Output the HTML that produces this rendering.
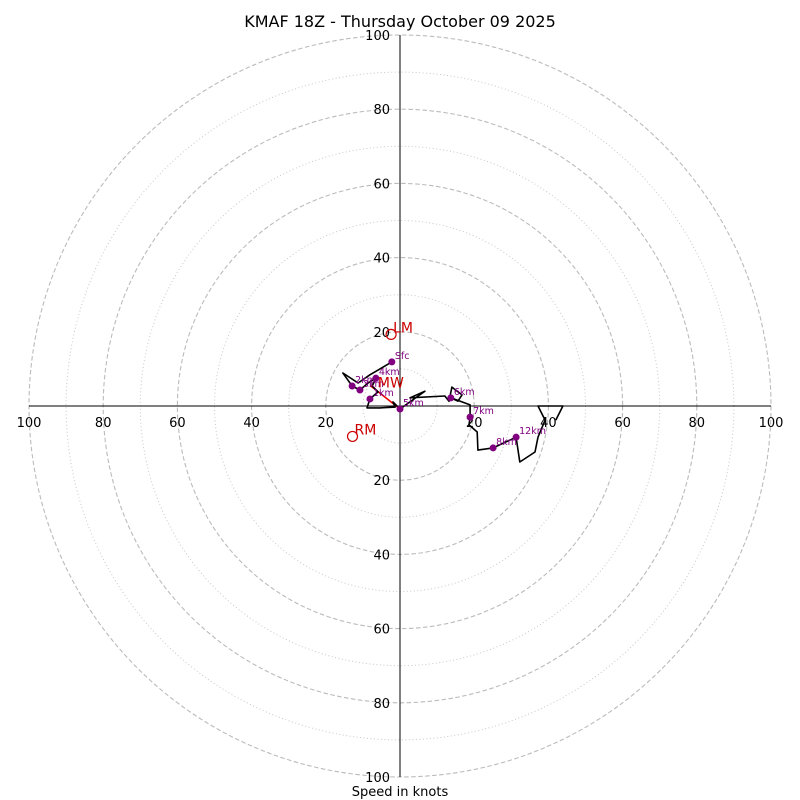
<!DOCTYPE html>
<html><head><meta charset="utf-8"><style>
html,body{margin:0;padding:0;background:#fff}
svg{display:block;font-family:"DejaVu Sans","Liberation Sans",sans-serif}
</style></head><body>
<svg id="c" width="800" height="800" viewBox="0 0 800 800">
<text x="400" y="27" text-anchor="middle" font-size="16">KMAF 18Z - Thursday October 09 2025</text>
<text x="400" y="796" text-anchor="middle" font-size="13">Speed in knots</text>
<g id="grid"></g><g id="axes"></g><g id="plot"></g>
</svg>
<script>
const ringsMajor=[20,40,60,80,100];
const ringsMinor=[10,30,50,70,90];
const tickLabels=[20,40,60,80,100];
const traceU=[-2.2,-5.4,-8.1,-11.3,-15.4,-12.9,-10.8,-8.6,-6.5,-7.5,-5.9,-8.1,-8.9,-5.4,-1.3,-1.9,0,6.7,2.7,12.1,13.2,14.0,16.7,15.6,13.7,18.9,18.9,18.6,20.8,21.0,25.1,31.3,32.3,36.4,37.2,39.1,37.2,43.9,42.0];
const traceV=[11.9,10.0,8.4,6.2,8.9,5.4,4.3,6.2,7.5,5.4,3.8,1.9,-0.5,-0.5,-0.3,1.1,-0.8,4.0,2.2,2.7,1.3,5.1,3.0,1.3,2.2,0.3,-3.0,-5.1,-7.0,-11.9,-11.3,-8.4,-15.1,-12.4,-8.4,-3.8,0,0,-3.8];
const markerLabels=['Sfc','1km','2km','3km','4km','5km','6km','7km','8km','12km'];
const markerU=[-2.2,-8.1,-12.9,-10.8,-6.5,0,13.7,18.9,25.1,31.3];
const markerV=[11.9,1.9,5.4,4.3,7.5,-0.8,2.2,-3.0,-11.3,-8.4];
const stormLabels=['LM','RM','MW'];
const stormU=[-2.4,-12.8,-6.5];
const stormV=[19.3,-8.2,4.5];
const cx=400,cy=406,k=3.71;
const X=u=>cx+u*k, Y=v=>cy-v*k;
const NS='http://www.w3.org/2000/svg';
function mk(t,a,p){const e=document.createElementNS(NS,t);for(const n in a)e.setAttribute(n,a[n]);p.appendChild(e);return e;}
const grid=document.getElementById('grid'),axes=document.getElementById('axes'),plot=document.getElementById('plot');
ringsMinor.forEach(r=>{const e=mk('circle',{cx:cx,cy:cy,r:r*k,fill:'none',stroke:'#c8c8c8','stroke-width':1,'stroke-dasharray':'1,2.5'},grid);

});
ringsMajor.forEach(r=>{const e=mk('circle',{cx:cx,cy:cy,r:r*k,fill:'none',stroke:'#bbb','stroke-width':1.1,'stroke-dasharray':'4.5,2.5'},grid);

});
let l=mk('line',{x1:X(-100),y1:cy,x2:X(100),y2:cy,stroke:'#000','stroke-width':1},axes);


l=mk('line',{x1:cx,y1:Y(100),x2:cx,y2:Y(-100),stroke:'#000','stroke-width':1},axes);


tickLabels.forEach(t=>{
 [[X(t),cy+21],[X(-t),cy+21]].forEach(p=>{const e=mk('text',{x:p[0],y:p[1],'text-anchor':'middle','font-size':13},axes);e.textContent=t;
 
 });
 [Y(t),Y(-t)].forEach(y=>{const e=mk('text',{x:cx-10,y:y+5,'text-anchor':'end','font-size':13},axes);e.textContent=t;
 
 });
});
l=mk('line',{x1:X(0),y1:Y(-0.8),x2:X(stormU[2]-1.5),y2:Y(stormV[2]+1),stroke:'#e00','stroke-width':1.6},plot);


const pts=traceU.map((u,i)=>X(u).toFixed(1)+','+Y(traceV[i]).toFixed(1)).join(' ');
const pl=mk('polyline',{points:pts,fill:'none',stroke:'#000','stroke-width':1.6,'stroke-linejoin':'round'},plot);


markerU.forEach((u,i)=>{
 const c=mk('circle',{cx:X(u),cy:Y(markerV[i]),r:3.5,fill:'#800080'},plot);
 
 
 const t=mk('text',{x:X(u)+3,y:Y(markerV[i])-3,'font-size':9.5,fill:'#800080'},plot);t.textContent=markerLabels[i];
 
 
});
stormU.forEach((u,i)=>{
 if(i<2){const c=mk('circle',{cx:X(u),cy:Y(stormV[i]),r:5,fill:'none',stroke:'#c00','stroke-width':1.2},plot);
 
 }
 const t=mk('text',{x:X(u)+2,y:Y(stormV[i])-2,'font-size':14,fill:'#c00'},plot);t.textContent=stormLabels[i];
 
 
});
</script>
</body></html>
